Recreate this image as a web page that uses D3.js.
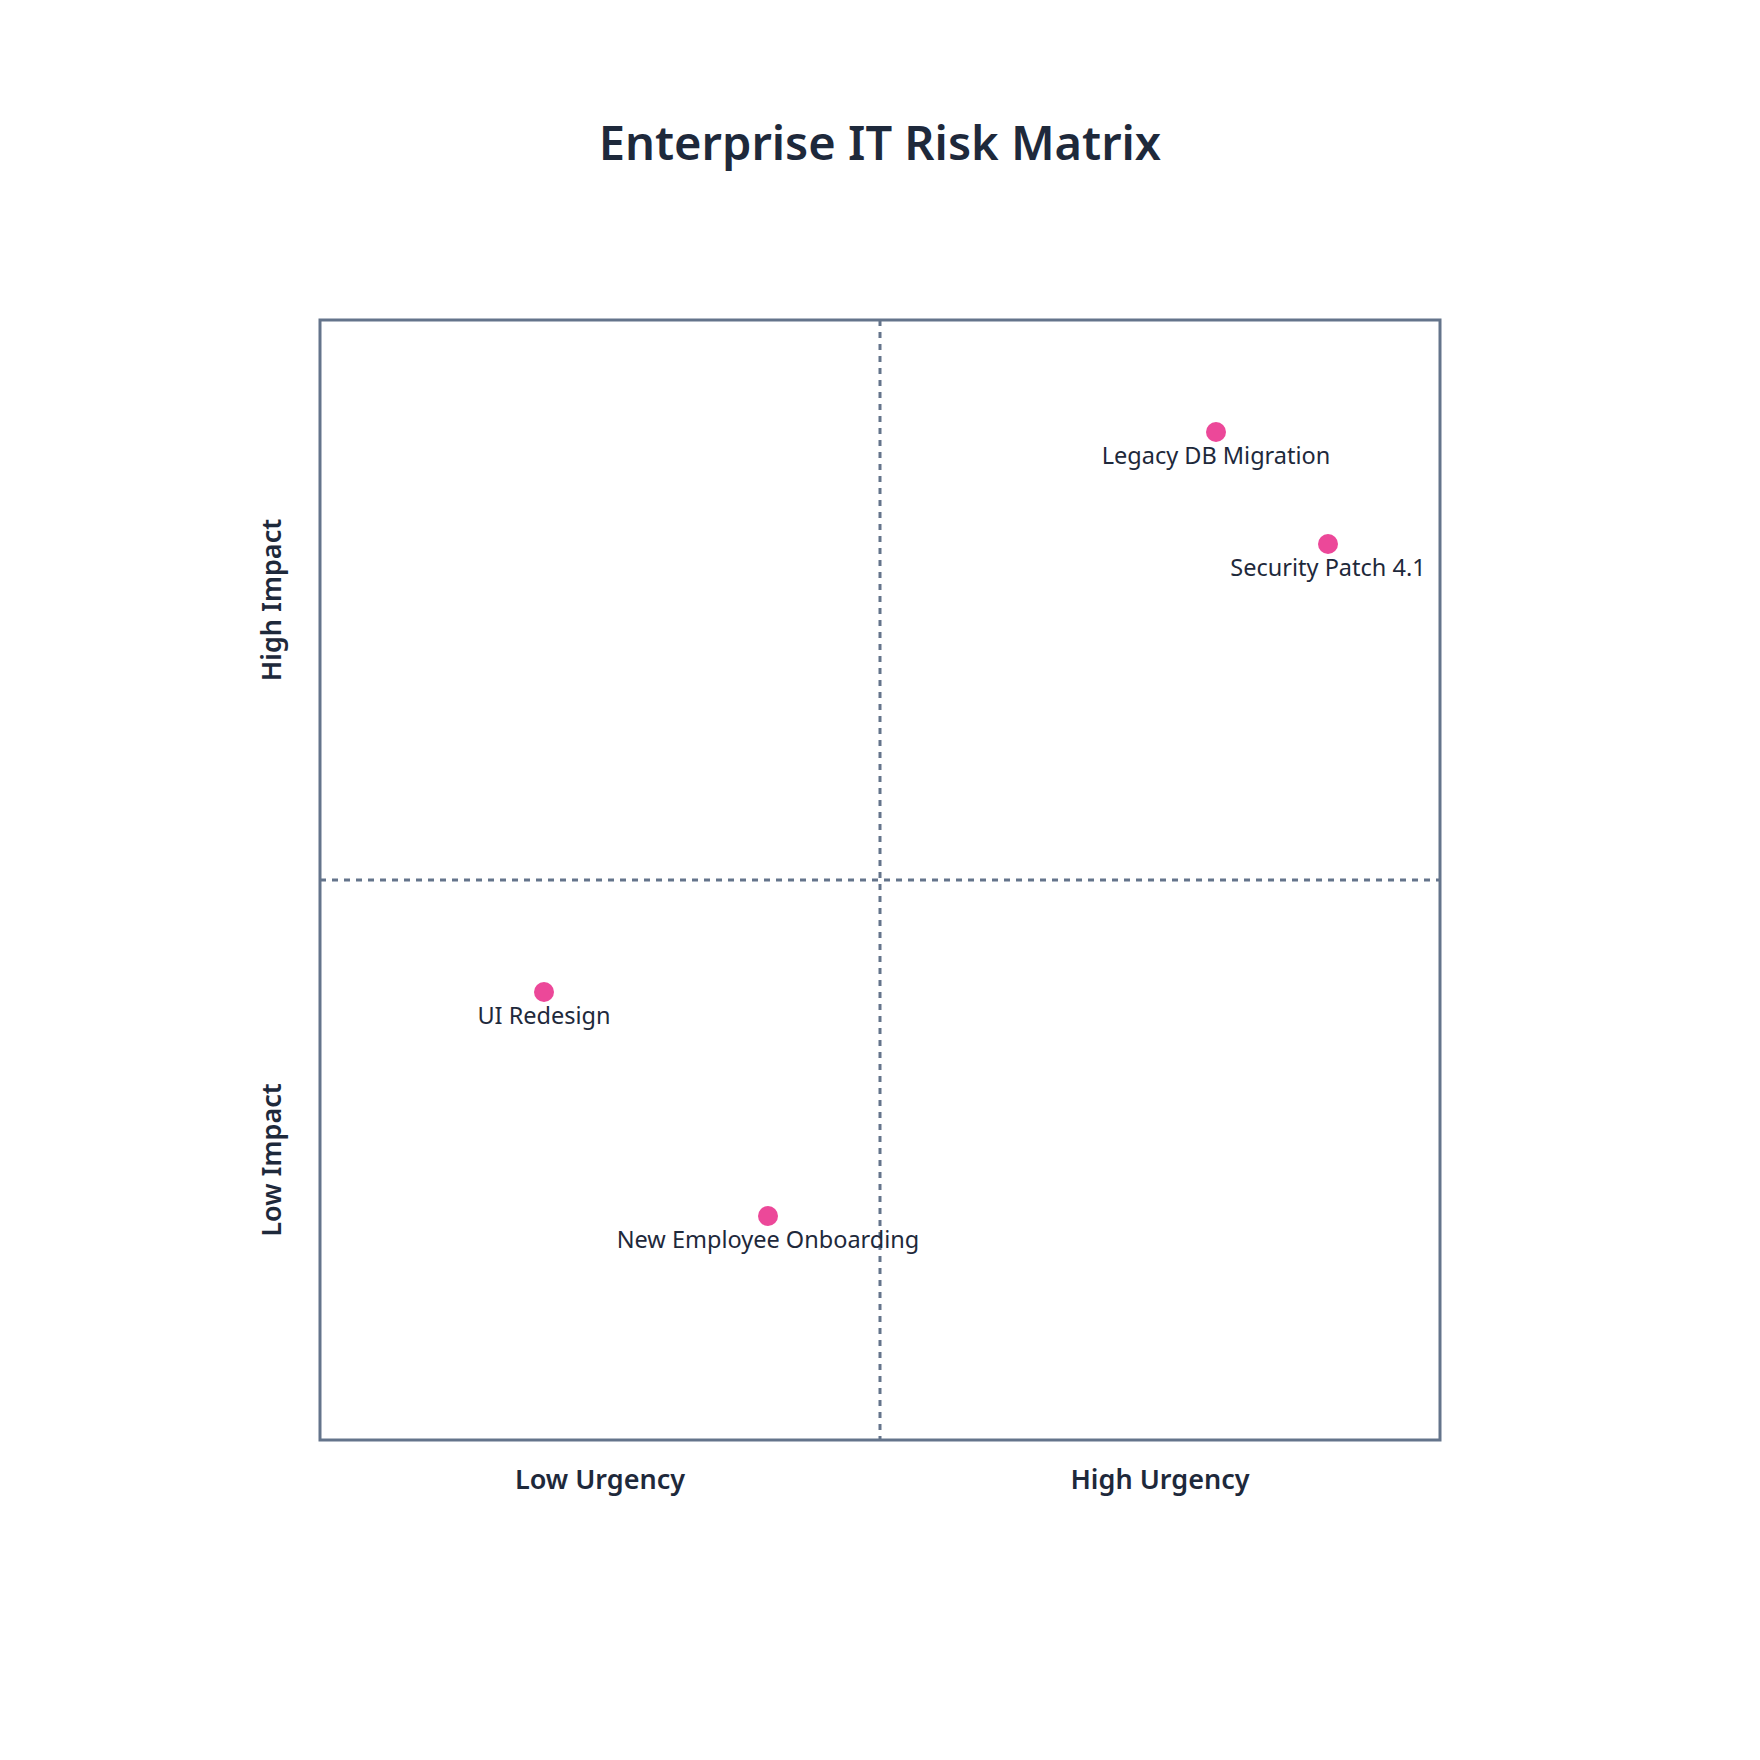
<!DOCTYPE html><html><head><meta charset="utf-8"><script src="https://cdn.jsdelivr.net/npm/d3@7"></script>
<style>body{margin:0;background:#fff}text{font-family:"Noto Sans",sans-serif;fill:#1e293b}</style></head><body><svg id="c" width="1760" height="1760"></svg>
<script>
const names=["Legacy DB Migration","Security Patch 4.1","UI Redesign","New Employee Onboarding"];
const urgency=[0.8,0.9,0.2,0.4];
const impact=[0.9,0.8,0.4,0.2];
const xLabels=["Low Urgency","High Urgency"];
const yLabels=["Low Impact","High Impact"];
const svg=d3.select("#c");
const x=d3.scaleLinear().domain([0,1]).range([320,1440]);
const y=d3.scaleLinear().domain([0,1]).range([1440,320]);
svg.append("text").attr("x",880).attr("y",160).attr("text-anchor","middle").attr("font-size",47).attr("font-weight",600).text("Enterprise IT Risk Matrix");
svg.append("rect").attr("x",x(0)).attr("y",y(1)).attr("width",x(1)-x(0)).attr("height",y(0)-y(1)).attr("fill","none").attr("stroke","#64748b").attr("stroke-width",3);
svg.append("line").attr("x1",x(0.5)).attr("x2",x(0.5)).attr("y1",y(1)).attr("y2",y(0)).attr("stroke","#64748b").attr("stroke-width",3).attr("stroke-dasharray","6,6");
svg.append("line").attr("x1",x(0)).attr("x2",x(1)).attr("y1",y(0.5)).attr("y2",y(0.5)).attr("stroke","#64748b").attr("stroke-width",3).attr("stroke-dasharray","6,6");
xLabels.forEach((t,i)=>svg.append("text").attr("x",x(0.25+0.5*i)).attr("y",1489).attr("text-anchor","middle").attr("font-size",27).attr("font-weight",600).text(t));
yLabels.forEach((t,i)=>svg.append("text").attr("transform",`translate(281,${y(0.25+0.5*i)}) rotate(-90)`).attr("text-anchor","middle").attr("font-size",27).attr("font-weight",600).text(t));
const g=svg.selectAll("g.p").data(names.map((n,i)=>({n,u:urgency[i],m:impact[i]}))).join("g");
g.append("circle").attr("cx",d=>x(d.u)).attr("cy",d=>y(d.m)).attr("r",10).attr("fill","#ec4899");
g.append("text").attr("x",d=>x(d.u)).attr("y",d=>y(d.m)+32).attr("text-anchor","middle").attr("font-size",23.5).text(d=>d.n);
</script></body></html>
